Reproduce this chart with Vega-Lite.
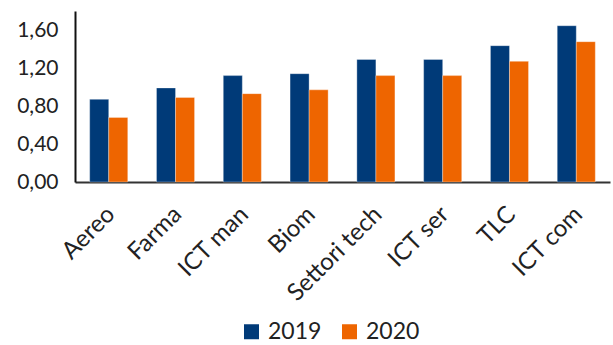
{
  "$schema": "https://vega.github.io/schema/vega-lite/v6.json",
  "width": 535,
  "height": 171,
  "autosize": {"type": "none"},
  "padding": {"left": 75, "top": 11, "right": 3, "bottom": 163},
  "background": "white",
  "config": {
    "view": {"stroke": null},
    "font": "Lato"
  },
  "data": {
    "values": [
      {"settore": "Aereo", "anno": "2019", "valore": 0.87},
      {"settore": "Aereo", "anno": "2020", "valore": 0.68},
      {"settore": "Farma", "anno": "2019", "valore": 0.99},
      {"settore": "Farma", "anno": "2020", "valore": 0.89},
      {"settore": "ICT man", "anno": "2019", "valore": 1.12},
      {"settore": "ICT man", "anno": "2020", "valore": 0.93},
      {"settore": "Biom", "anno": "2019", "valore": 1.14},
      {"settore": "Biom", "anno": "2020", "valore": 0.97},
      {"settore": "Settori tech", "anno": "2019", "valore": 1.29},
      {"settore": "Settori tech", "anno": "2020", "valore": 1.12},
      {"settore": "ICT ser", "anno": "2019", "valore": 1.29},
      {"settore": "ICT ser", "anno": "2020", "valore": 1.12},
      {"settore": "TLC", "anno": "2019", "valore": 1.435},
      {"settore": "TLC", "anno": "2020", "valore": 1.27},
      {"settore": "ICT com", "anno": "2019", "valore": 1.645},
      {"settore": "ICT com", "anno": "2020", "valore": 1.477}
    ]
  },
  "mark": {"type": "bar", "stroke": "#ffffff", "strokeOpacity": 0.4, "strokeWidth": 0.8},
  "encoding": {
    "x": {
      "field": "settore",
      "type": "nominal",
      "sort": null,
      "title": null,
      "scale": {"paddingInner": 0.43, "paddingOuter": 0.22},
      "axis": {
        "labelAngle": -45,
        "labelFontSize": 24,
        "labelColor": "#222222",
        "labelPadding": 20,
        "labelOffset": -6,
        "ticks": false,
        "domainColor": "#333333",
        "domainWidth": 2,
        "labelFont": "Lato"
      }
    },
    "xOffset": {"field": "anno", "type": "nominal"},
    "y": {
      "field": "valore",
      "type": "quantitative",
      "title": null,
      "scale": {"domain": [0, 1.8], "nice": false},
      "axis": {
        "values": [0, 0.4, 0.8, 1.2, 1.6],
        "labelExpr": "replace(format(datum.value, '.2f'), '.', ',')",
        "labelFontSize": 21,
        "labelColor": "#222222",
        "labelPadding": 17,
        "ticks": false,
        "grid": false,
        "domainColor": "#111111",
        "domainWidth": 2
      }
    },
    "color": {
      "field": "anno",
      "type": "nominal",
      "scale": {"domain": ["2019", "2020"], "range": ["#003A78", "#EE6500"]},
      "legend": {
        "title": null,
        "orient": "none",
        "direction": "horizontal",
        "legendX": 165,
        "legendY": 309,
        "symbolType": "square",
        "symbolSize": 225,
        "symbolStrokeWidth": 0,
        "labelFontSize": 23,
        "labelColor": "#222222",
        "columnPadding": 16,
        "labelOffset": 5
      }
    }
  }
}
